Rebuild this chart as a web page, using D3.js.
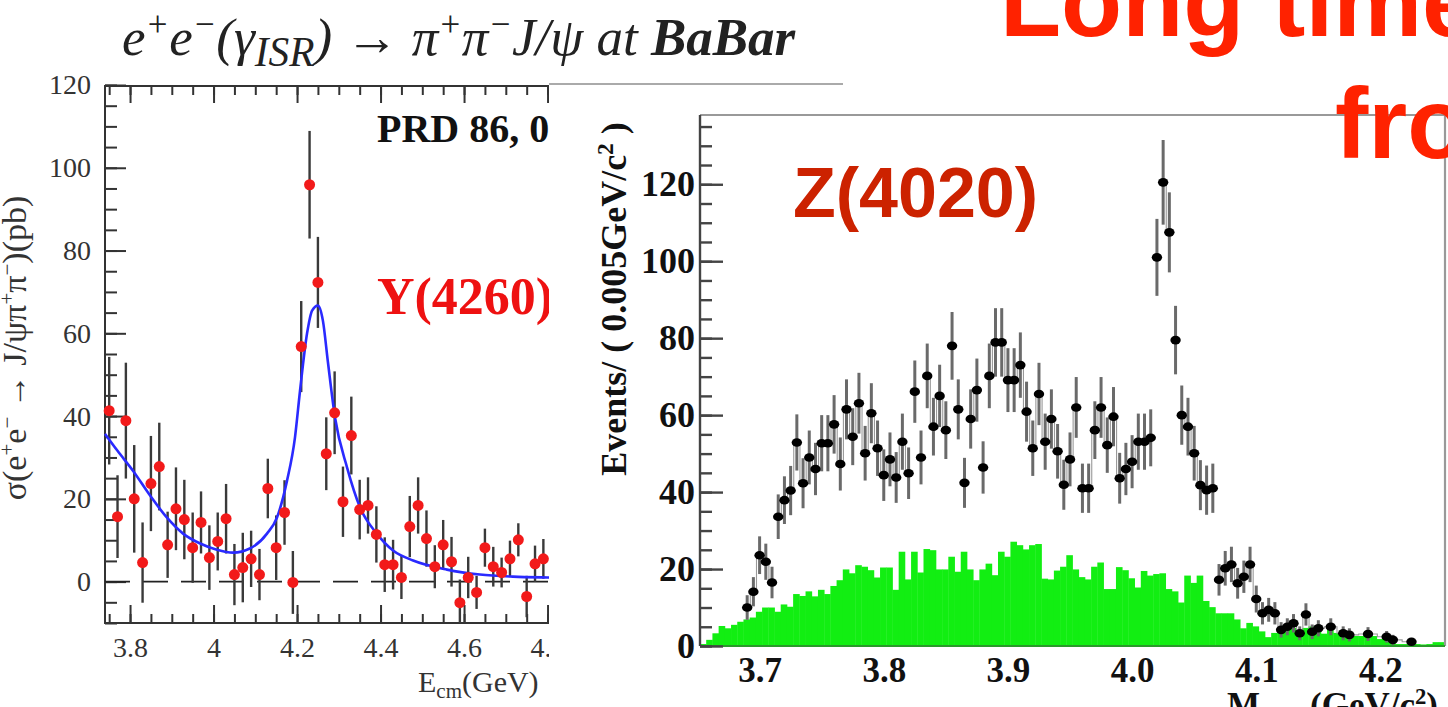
<!DOCTYPE html>
<html>
<head>
<meta charset="utf-8">
<script src="https://cdn.jsdelivr.net/npm/d3@7"></script>
<style>
  html, body { margin: 0; padding: 0; background: #fff; }
  svg { display: block; }
</style>
</head>
<body>
<svg id="c" width="1448" height="707"></svg>
<script>
// ---------- BaBar e+e- -> pi+pi- J/psi cross section ----------
const babarE = [3.75,3.77,3.79,3.81,3.83,3.85,3.87,3.89,3.91,3.93,3.95,3.97,3.99,4.01,4.03,4.05,4.07,4.09,4.11,4.13,4.15,4.17,4.19,4.21,4.23,4.25,4.27,4.29,4.31,4.33,4.35,4.37,4.39,4.41,4.43,4.45,4.47,4.49,4.51,4.53,4.55,4.57,4.59,4.61,4.63,4.65,4.67,4.69,4.71,4.73,4.75,4.77,4.79];
const babarSigma = [41.3,15.7,38.9,20.0,4.6,23.7,27.8,8.9,17.6,15.0,8.2,14.3,5.8,9.7,15.2,1.7,3.4,5.5,1.7,22.5,8.2,16.7,-0.2,56.8,95.9,72.3,30.9,40.8,19.3,35.3,17.4,18.4,11.4,4.1,4.1,1.0,13.3,18.4,10.4,3.6,8.9,4.8,-5.1,1.0,-2.6,8.2,3.6,2.2,5.5,10.1,-3.6,4.3,5.5];
const babarErr = [13,10,14,13,9.7,11.5,10.6,8,10,9.6,8.5,7.5,7.8,7,8.4,7.4,8.4,6.8,6.2,7.2,7.8,7.8,7.6,11,13,11,8.8,10,8.5,9.4,7.2,6.8,6.8,6.6,6,5.2,7.4,6.8,6.8,5.2,6,6,5.6,5,4,4.6,4.8,3.6,4.4,4,5,4.4,4.8];
// fitted line shape
const fitE = [3.74,3.77,3.807,3.848,3.888,3.927,3.968,4.008,4.047,4.087,4.128,4.152,4.176,4.195,4.207,4.224,4.236,4.25,4.262,4.274,4.291,4.32,4.351,4.391,4.43,4.478,4.559,4.638,4.717,4.80,4.90];
const fitSigma = [35.7,31.6,26.8,20.8,15.5,11.6,9.2,7.7,7.0,8.0,11.6,15.5,24.4,34.8,46,60,65.5,66.7,63,53,39.6,27.5,17.9,11.6,7.5,5.1,2.9,1.7,1.2,1.0,0.9];
const babarXTicks = [3.8,4.0,4.2,4.4,4.6,4.8];
const babarXLabels = ["3.8","4","4.2","4.4","4.6","4.8"];
const babarYTicks = [0,20,40,60,80,100,120];

// ---------- Z(4020) invariant-mass spectrum ----------
const zMass = [3.690,3.695,3.700,3.705,3.710,3.715,3.720,3.725,3.730,3.735,3.740,3.745,3.750,3.755,3.760,3.765,3.770,3.775,3.780,3.785,3.790,3.795,3.800,3.805,3.810,3.815,3.820,3.825,3.830,3.835,3.840,3.845,3.850,3.855,3.860,3.865,3.870,3.875,3.880,3.885,3.890,3.895,3.900,3.905,3.910,3.915,3.920,3.925,3.930,3.935,3.940,3.945,3.950,3.955,3.960,3.965,3.970,3.975,3.980,3.985,3.990,3.995,4.000,4.005,4.010,4.015,4.020,4.025,4.030,4.035,4.040,4.045,4.050,4.055,4.060,4.065,4.070,4.075,4.080,4.085,4.090,4.095,4.100,4.105,4.110,4.115,4.120,4.125,4.130,4.135,4.140,4.145,4.150,4.160,4.170,4.175,4.190,4.205,4.210,4.225];
const zEvents = [10.0,14.1,23.6,21.9,16.5,33.6,37.9,40.4,52.9,42.3,49.0,46.0,52.7,52.7,57.6,47.3,61.5,54.4,63.1,50.1,60.5,51.4,44.4,48.5,43.8,53.1,44.9,66.1,49.0,70.2,57.0,65.0,56.1,78.0,61.5,42.4,59.0,66.5,46.4,70.2,78.9,78.9,69.1,69.1,73.0,60.9,51.4,65.5,53.1,59.0,50.6,41.9,48.5,62.0,41.0,41.0,56.1,62.0,52.2,59.6,43.6,46.0,47.9,53.1,53.1,54.1,101.0,120.5,107.5,79.5,60.0,57.0,50.1,41.8,40.5,41.0,17.2,20.2,21.2,16.3,18.0,21.2,12.2,8.5,9.4,8.5,4.2,5.0,5.9,3.3,8.2,3.7,4.6,5.0,3.3,2.9,3.1,2.4,1.6,1.1];
const zErr = [3.2,3.8,4.9,4.7,4.1,5.8,6.2,6.4,7.3,6.5,7.0,6.8,7.3,7.3,7.6,6.9,7.8,7.4,7.9,7.1,7.8,7.2,6.7,7.0,6.6,7.3,6.7,8.1,7.0,8.4,7.5,8.1,7.5,8.8,7.8,6.5,7.7,8.2,6.8,8.4,8.9,8.9,8.3,8.3,8.5,7.8,7.2,8.1,7.3,7.7,7.1,6.5,7.0,7.9,6.4,6.4,7.5,7.9,7.2,7.7,6.6,6.8,6.9,7.3,7.3,7.4,10.0,11.0,10.4,8.9,7.7,7.5,7.1,6.5,6.4,6.4,4.1,4.5,4.6,4.0,4.2,4.6,3.5,2.9,3.1,2.9,2.0,2.2,2.4,1.8,2.9,1.9,2.1,2.2,1.8,1.7,1.8,1.5,1.3,1.0];
// background histogram, 0.005 GeV bins from the left edge of the axis
const bkgStart = 3.652, bkgWidth = 0.005;
const bkgCounts = [0.5,1.6,3.3,5.2,4.6,5.5,6.3,6.9,7.4,8.9,10.0,10.0,8.9,10.8,10.2,13.5,13.0,14.2,12.9,14.6,13.5,15.6,17.1,19.9,18.9,21.0,20.6,19.7,17.8,20.4,20.4,14.6,24.5,17.3,24.5,19.1,25.2,24.9,19.9,19.9,23.2,19.3,24.5,19.9,17.1,19.9,21.4,18.4,24.5,23.2,27.1,26.2,25.1,26.2,26.5,17.5,17.3,19.6,20.6,23.6,19.9,17.9,17.3,20.6,21.7,14.8,14.8,20.5,19.7,17.6,15.2,19.5,18.3,18.7,18.9,14.8,14.2,11.3,18.3,16.4,18.3,11.7,10.1,8.5,8.5,8.5,6.9,4.6,6.0,5.1,3.8,2.3,3.4,4.3,5.1,4.7,3.2,4.7,5.1,5.1,3.2,4.7,3.4,3.4,3.0,2.6,2.6,3.0,2.6,1.8,1.8,0.9,0.5,0.5,0.6,0.5,0.4,0.5,1.0,1.0];
const zXTicks = [3.7,3.8,3.9,4.0,4.1,4.2];
const zYTicks = [0,20,40,60,80,100,120];

const SERIF = "'Liberation Serif','Times New Roman',serif";
const SANS = "'Liberation Sans',Arial,sans-serif";
const svg = d3.select("#c");

// mixed text with super/subscripts; shifts are absolute pixels
function rich(sel, parts, base) {
  let shift = 0;
  parts.forEach(p => {
    const target = p.sup ? -base * 0.36 : p.sub ? base * 0.2 : 0;
    const ts = sel.append("tspan").attr("dy", target - shift).text(p.t);
    if (p.sup || p.sub) ts.attr("font-size", base * (p.scale || 0.62));
    if (p.w) ts.attr("font-weight", p.w);
    if (p.st) ts.attr("font-style", p.st);
    if (p.dx) ts.attr("dx", p.dx);
    shift = target;
  });
}

// ================= left panel =================
const xL = d3.scaleLinear().domain([3.74, 4.9]).range([105, 105 + 1.16 * 417.5]);
const yL = d3.scaleLinear().domain([-10, 120]).range([623, 85]);
const L = svg.append("g");

function styleAxis(g, col, w) {
  g.select(".domain").remove();
  g.selectAll(".tick line").attr("stroke", col).attr("stroke-width", w);
}

// minor ticks
L.append("g").attr("transform", "translate(105,0)")
  .call(d3.axisLeft(yL).tickValues(d3.range(-10, 121, 5)).tickSizeInner(-12).tickSizeOuter(0).tickFormat(""))
  .call(g => styleAxis(g, "#333", 2));
L.append("g").attr("transform", "translate(0,623)")
  .call(d3.axisBottom(xL).tickValues(d3.range(3.75, 4.86, 0.05)).tickSizeInner(-9).tickSizeOuter(0).tickFormat(""))
  .call(g => styleAxis(g, "#333", 2));
L.append("g").attr("transform", "translate(0,86)")
  .call(d3.axisTop(xL).tickValues(d3.range(3.75, 4.86, 0.05)).tickSizeInner(-9).tickSizeOuter(0).tickFormat(""))
  .call(g => styleAxis(g, "#333", 2));
// major ticks + labels
L.append("g").attr("transform", "translate(105,0)")
  .call(d3.axisLeft(yL).tickValues(babarYTicks).tickSizeInner(-21).tickSizeOuter(0).tickPadding(14))
  .call(g => { styleAxis(g, "#333", 2); g.selectAll("text").style("font", `28px ${SERIF}`).attr("fill", "#333"); });
L.append("g").attr("transform", "translate(0,623)")
  .call(d3.axisBottom(xL).tickValues(babarXTicks).tickSizeInner(-18).tickSizeOuter(0).tickPadding(14)
    .tickFormat((d, i) => babarXLabels[i]))
  .call(g => { styleAxis(g, "#333", 2); g.selectAll("text").style("font", `28px ${SERIF}`).attr("fill", "#333"); });
L.append("g").attr("transform", "translate(0,86)")
  .call(d3.axisTop(xL).tickValues(babarXTicks).tickSizeInner(-17).tickSizeOuter(0).tickFormat(""))
  .call(g => styleAxis(g, "#333", 2));

// frame
L.append("path").attr("d", `M${xL.range()[1]},86H105V623H${xL.range()[1]}`)
  .attr("fill", "none").attr("stroke", "#333").attr("stroke-width", 2);

// zero line
L.append("line").attr("x1", 105).attr("x2", xL.range()[1]).attr("y1", yL(0)).attr("y2", yL(0))
  .attr("stroke", "#222").attr("stroke-width", 1.8).attr("stroke-dasharray", "25,13");

// error bars
L.selectAll("line.eb").data(babarE).join("line").attr("class", "eb")
  .attr("x1", d => xL(d)).attr("x2", d => xL(d))
  .attr("y1", (d, i) => yL(Math.max(babarSigma[i] - babarErr[i], -10)))
  .attr("y2", (d, i) => yL(babarSigma[i] + babarErr[i]))
  .attr("stroke", "#3a3a3a").attr("stroke-width", 2.4);

// fit
L.append("path").datum(fitE)
  .attr("d", d3.line().x(d => xL(d)).y((d, i) => yL(fitSigma[i])).curve(d3.curveMonotoneX))
  .attr("fill", "none").attr("stroke", "#2a2aff").attr("stroke-width", 2.6);

// points
L.selectAll("circle.pt").data(babarE).join("circle").attr("class", "pt")
  .attr("cx", d => xL(d)).attr("cy", (d, i) => yL(babarSigma[i])).attr("r", 5.5)
  .attr("fill", "#f21a1a");

// labels on the panel
L.append("text").attr("x", 377).attr("y", 142).style("font", `bold 40px ${SERIF}`).attr("fill", "#111")
  .text("PRD 86, 051102");
L.append("text").attr("x", 377).attr("y", 314).style("font", `bold 52px ${SERIF}`).attr("fill", "#ee1111")
  .text("Y(4260)");

// x title
const xt = L.append("text").attr("x", 418).attr("y", 692).style("font", `30px ${SERIF}`).attr("fill", "#333");
rich(xt, [{t: "E"}, {t: "cm", sub: true, scale: 0.7}, {t: "(GeV)"}], 30);

// y title
const yt = svg.append("text").attr("transform", "translate(26,348) rotate(-90)")
  .attr("text-anchor", "middle").style("font", `34px ${SERIF}`).attr("fill", "#333");
rich(yt, [{t: "σ(e"}, {t: "+", sup: true}, {t: "e"}, {t: "−", sup: true}, {t: " → J/ψπ"},
          {t: "+", sup: true}, {t: "π"}, {t: "−", sup: true}, {t: ")(pb)"}], 34);

// headline
const title = svg.append("text").attr("x", 122).attr("y", 55)
  .style("font", `italic 53px ${SERIF}`).attr("fill", "#222");
rich(title, [{t: "e"}, {t: "+", sup: true, scale: 0.66}, {t: "e"}, {t: "−", sup: true, scale: 0.66}, {t: "(γ"},
             {t: "ISR", sub: true, scale: 0.78}, {t: ") → π"}, {t: "+", sup: true, scale: 0.66}, {t: "π"},
             {t: "−", sup: true, scale: 0.66}, {t: "J/ψ at "}, {t: "BaBar", w: "bold"}], 53);

// ================= right panel =================
svg.append("rect").attr("x", 549).attr("y", 84).attr("width", 1448 - 549).attr("height", 707 - 84).attr("fill", "#fff");
svg.append("line").attr("x1", 549).attr("x2", 843).attr("y1", 84).attr("y2", 84)
  .attr("stroke", "#aaa").attr("stroke-width", 2);

const xR = d3.scaleLinear().domain([3.652, 4.252]).range([700, 1445]);
const yR = d3.scaleLinear().domain([0, 138]).range([646, 115]);
const R = svg.append("g");

// background histogram
R.selectAll("rect.bkg").data(bkgCounts).join("rect").attr("class", "bkg")
  .attr("x", (d, i) => xR(bkgStart + i * bkgWidth))
  .attr("width", (d, i) => xR(bkgStart + (i + 1) * bkgWidth) - xR(bkgStart + i * bkgWidth) + 0.4)
  .attr("y", d => yR(d)).attr("height", d => yR(0) - yR(d))
  .attr("fill", "#12ee12");

// frame
R.append("path").attr("d", `M700,115H1445V646`).attr("fill", "none").attr("stroke", "#999").attr("stroke-width", 2.2);
R.append("line").attr("x1", 700).attr("x2", 1445).attr("y1", 646).attr("y2", 646).attr("stroke", "#2a9a2a").attr("stroke-width", 2);

R.append("g").attr("transform", "translate(700,0)")
  .call(d3.axisLeft(yR).tickValues(d3.range(0, 136, 5)).tickSizeInner(-12).tickSizeOuter(0).tickFormat(""))
  .call(g => styleAxis(g, "#444", 2.4));
R.append("g").attr("transform", "translate(700,0)")
  .call(d3.axisLeft(yR).tickValues(zYTicks).tickSizeInner(-23).tickSizeOuter(0).tickPadding(5))
  .call(g => { styleAxis(g, "#444", 2.4); g.selectAll("text").style("font", `bold 36px ${SERIF}`).attr("fill", "#111"); });
R.append("line").attr("x1", 700).attr("x2", 700).attr("y1", 115).attr("y2", 646).attr("stroke", "#444").attr("stroke-width", 2.4);
R.append("g").attr("transform", "translate(0,646)")
  .call(d3.axisBottom(xR).tickValues(zXTicks).tickSize(0).tickPadding(11).tickFormat(d3.format(".1f")))
  .call(g => { g.select(".domain").remove(); g.selectAll("text").style("font", `bold 35px ${SERIF}`).attr("fill", "#111"); });

// thin step outline joining neighbouring points (skipped across large jumps)
const stepPath = d3.path();
zMass.forEach((m, i) => {
  if (i === 0) return;
  const a = zEvents[i - 1], b = zEvents[i];
  if (Math.abs(b - a) > 16) return;
  const x0 = xR(zMass[i - 1]), x1 = xR(m), xm = (x0 + x1) / 2;
  stepPath.moveTo(x0, yR(a)); stepPath.lineTo(xm, yR(a)); stepPath.lineTo(xm, yR(b)); stepPath.lineTo(x1, yR(b));
});
R.append("path").attr("d", stepPath.toString())
  .attr("fill", "none").attr("stroke", "#999").attr("stroke-width", 1.1);

// error bars
R.selectAll("line.zeb").data(zMass).join("line").attr("class", "zeb")
  .attr("x1", d => xR(d)).attr("x2", d => xR(d))
  .attr("y1", (d, i) => yR(Math.max(zEvents[i] - zErr[i], 0)))
  .attr("y2", (d, i) => yR(zEvents[i] + zErr[i]))
  .attr("stroke", "#6a6a6a").attr("stroke-width", 3);

// points
R.selectAll("ellipse.zpt").data(zMass).join("ellipse").attr("class", "zpt")
  .attr("cx", d => xR(d)).attr("cy", (d, i) => yR(zEvents[i])).attr("rx", 5.2).attr("ry", 4.3)
  .attr("fill", "#000");

// axis titles
const zy = R.append("text").attr("transform", "translate(626,299) rotate(-90)")
  .attr("text-anchor", "middle").style("font", `bold 36px ${SERIF}`).attr("fill", "#111");
rich(zy, [{t: "Events/ ( 0.005GeV/c"}, {t: "2", sup: true, scale: 0.65}, {t: " )"}], 36);
R.append("text").attr("x", 1227).attr("y", 717).style("font", `bold 35px ${SERIF}`).attr("fill", "#111").text("M");
const zx = R.append("text").attr("x", 1310).attr("y", 717).style("font", `bold 35px ${SERIF}`).attr("fill", "#111");
rich(zx, [{t: "(GeV/c"}, {t: "2", sup: true, scale: 0.65}, {t: ")"}], 35);

R.append("text").attr("x", 793).attr("y", 217).style("font", `bold 70px ${SANS}`).attr("fill", "#cc2200").text("Z(4020)");

// slide headline
svg.append("text").attr("x", 1000).attr("y", 36).style("font", `bold 100px ${SANS}`).attr("fill", "#ff2200").text("Long time");
svg.append("text").attr("x", 1335).attr("y", 158).style("font", `bold 100px ${SANS}`).attr("fill", "#ff2200").text("from");
</script>
</body>
</html>
